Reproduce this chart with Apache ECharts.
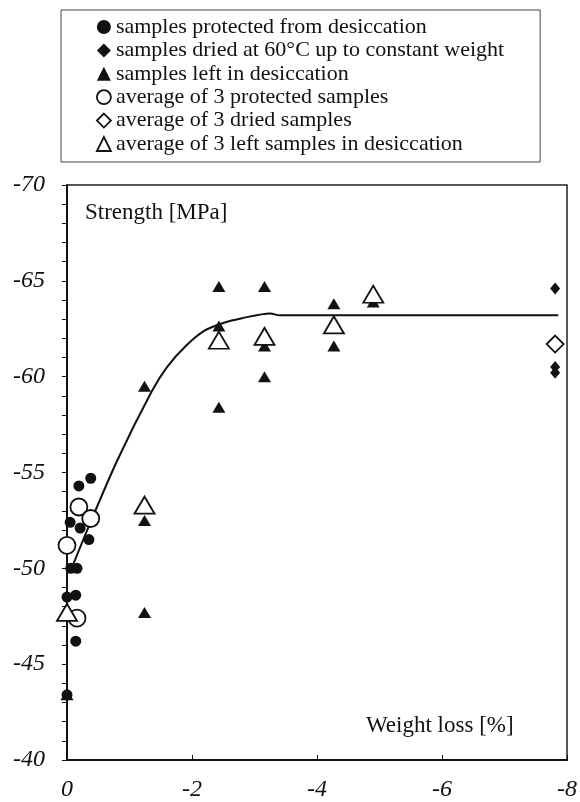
<!DOCTYPE html>
<html>
<head>
<meta charset="utf-8">
<script src="https://cdn.jsdelivr.net/npm/echarts@6/dist/echarts.min.js"></script>
<style>html,body{margin:0;background:#fff}#main{width:580px;height:802px}</style>
</head>
<body>
<div id="main"></div>
<script>
// values: [weight loss %, strength MPa]
const protectedPts = [[-0.38,-54.7],[-0.19,-54.3],[-0.05,-52.4],[-0.21,-52.1],[-0.35,-51.5],
  [-0.06,-50.0],[-0.16,-50.0],[0,-48.5],[-0.14,-48.6],[-0.14,-46.2],[0,-43.4]];
const driedPts = [[-7.81,-64.6],[-7.81,-60.5],[-7.81,-60.2]];
const leftPts = [[0,-43.4],[-1.24,-59.5],[-1.24,-52.5],[-1.24,-47.7],
  [-2.43,-64.7],[-2.43,-62.65],[-2.43,-58.4],[-3.16,-64.7],[-3.16,-61.6],[-3.16,-60.0],
  [-4.27,-63.8],[-4.27,-61.6],[-4.9,-63.9]];
const protectedAvg = [[-0.19,-53.2],[-0.38,-52.6],[0,-51.2],[-0.16,-47.4]];
const driedAvg = [[-7.81,-61.7]];
const leftAvg = [[0,-47.7],[-1.24,-53.3],[-2.43,-61.9],[-3.16,-62.1],[-4.27,-62.7],[-4.9,-64.3]];
const fitCurve = [[-0.05,-49.8],[-0.35,-52.2],[-0.8,-55.6],[-1.35,-59.2],[-1.6,-60.5],[-1.9,-61.6],
  [-2.2,-62.4],[-2.5,-62.8],[-2.8,-63.05],[-3.25,-63.3],[-3.4,-63.2],[-7.86,-63.2]];

const names = ['samples protected from desiccation','samples dried at 60°C up to constant weight',
  'samples left in desiccation','average of 3 protected samples','average of 3 dried samples',
  'average of 3 left samples in desiccation'];

const ink = '#111';
const serif = 'Liberation Serif';
const filled = {color: ink, opacity: 1};
const hollow = {color: '#fff', borderColor: ink, borderWidth: 1.8, opacity: 1};

const chart = echarts.init(document.getElementById('main'));
chart.setOption({
  animation: false,
  backgroundColor: '#fff',
  title: [
    {text: 'Strength [MPa]', left: 80, top: 196,
      textStyle: {fontFamily: serif, fontSize: 23, fontWeight: 'normal', color: ink}},
    {text: 'Weight loss [%]', left: 361, top: 709,
      textStyle: {fontFamily: serif, fontSize: 23, fontWeight: 'normal', color: ink}}
  ],
  legend: {
    left: 61, top: 10, orient: 'vertical',
    itemWidth: 14, itemHeight: 14, itemGap: 1.4,
    padding: [6, 36, 7, 35],
    borderColor: '#444', borderWidth: 1,
    textStyle: {fontFamily: serif, fontSize: 22, lineHeight: 22, color: ink},
    data: [
      {name: names[0], icon: 'circle', itemStyle: filled},
      {name: names[1], icon: 'diamond', itemStyle: filled},
      {name: names[2], icon: 'triangle', itemStyle: filled},
      {name: names[3], icon: 'circle', itemStyle: hollow},
      {name: names[4], icon: 'diamond', itemStyle: hollow},
      {name: names[5], icon: 'triangle', itemStyle: hollow}
    ]
  },
  grid: {left: 67, right: 6, top: 185, bottom: 42, show: true, borderColor: '#222', borderWidth: 1.5},
  xAxis: {
    type: 'value', min: -8, max: 0, interval: 2, inverse: true,
    axisLine: {lineStyle: {color: ink, width: 2}},
    axisTick: {inside: true, length: 5, lineStyle: {color: ink}},
    splitLine: {show: false},
    axisLabel: {fontFamily: serif, fontStyle: 'italic', fontSize: 24, color: ink, margin: 18}
  },
  yAxis: {
    type: 'value', min: -70, max: -40, interval: 5, inverse: true,
    axisLine: {show: true, lineStyle: {color: ink, width: 2}},
    axisTick: {show: true, length: 5, lineStyle: {color: ink}},
    minorTick: {show: true, splitNumber: 5, length: 5, lineStyle: {color: ink}},
    splitLine: {show: false},
    axisLabel: {fontFamily: serif, fontStyle: 'italic', fontSize: 24, color: ink, margin: 22}
  },
  series: [
    {type: 'line', data: fitCurve, smooth: 0.3, showSymbol: false, z: 1,
      lineStyle: {color: ink, width: 2}},
    {name: names[0], type: 'scatter', data: protectedPts, symbol: 'circle', symbolSize: 11, itemStyle: filled, z: 2},
    {name: names[1], type: 'scatter', data: driedPts, symbol: 'diamond', symbolSize: [10, 12], itemStyle: filled, z: 2},
    {name: names[2], type: 'scatter', data: leftPts, symbol: 'triangle', symbolSize: [13, 11], itemStyle: filled, z: 2},
    {name: names[3], type: 'scatter', data: protectedAvg, symbol: 'circle', symbolSize: 17, itemStyle: hollow, z: 3},
    {name: names[4], type: 'scatter', data: driedAvg, symbol: 'diamond', symbolSize: [17, 17], itemStyle: hollow, z: 3},
    {name: names[5], type: 'scatter', data: leftAvg, symbol: 'triangle', symbolSize: [20, 17], itemStyle: hollow, z: 3}
  ]
});
</script>
</body>
</html>
